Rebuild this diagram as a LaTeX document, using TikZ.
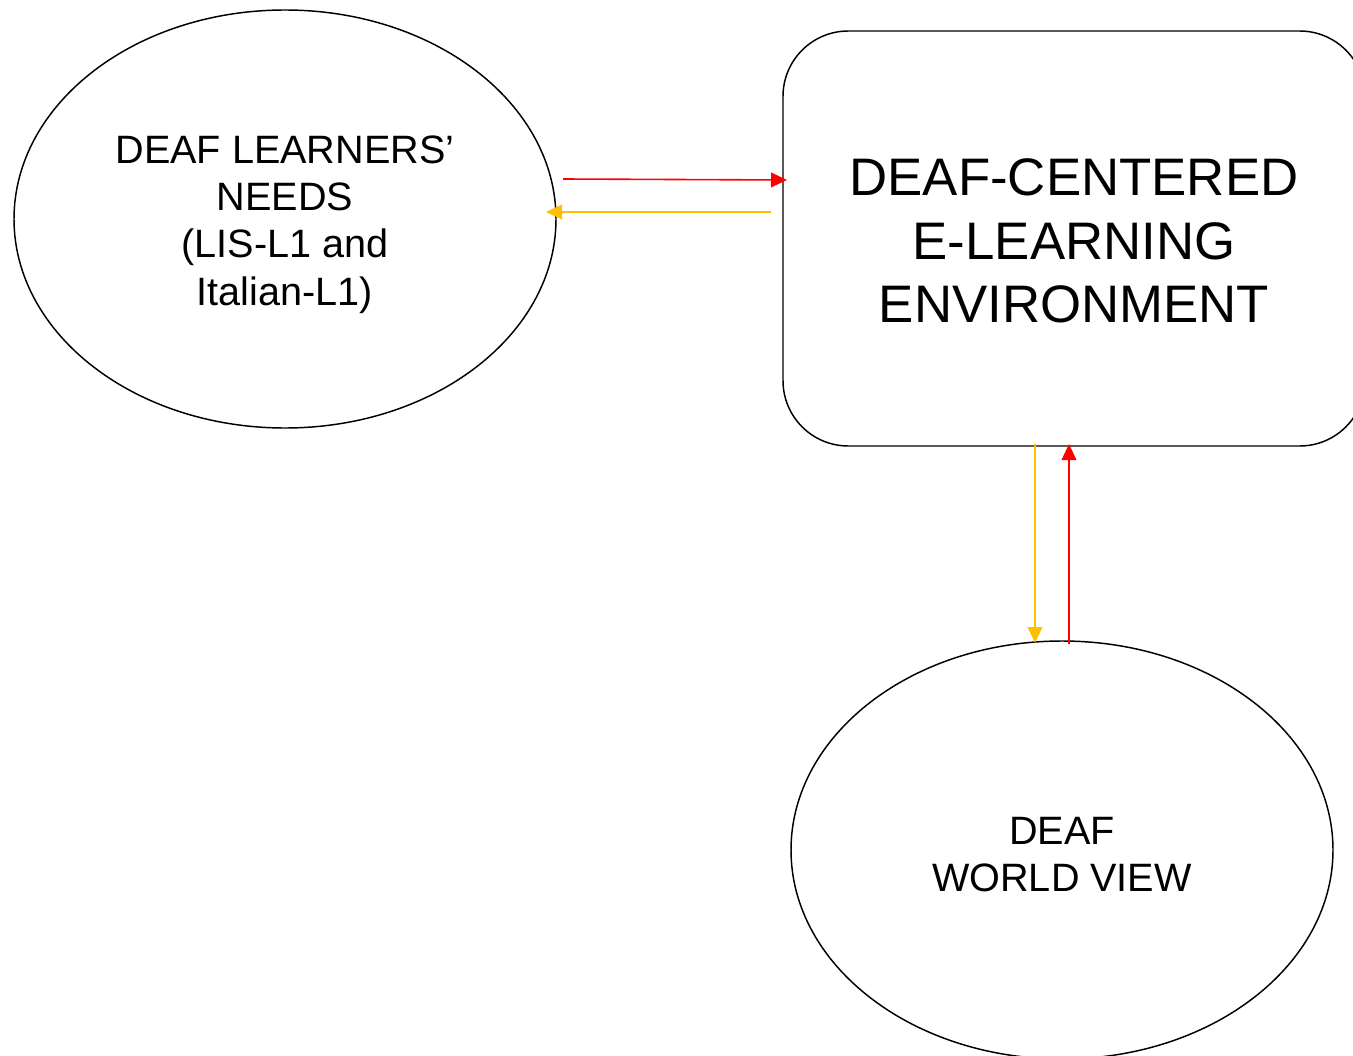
\documentclass[tikz,border=0pt]{standalone}
\usepackage{fontspec}
\setmainfont{Liberation Sans}
\usetikzlibrary{shapes.geometric,arrows.meta}
\definecolor{arrred}{HTML}{FF0000}
\definecolor{arryel}{HTML}{FFC000}
\tikzset{
  oval/.style={draw=black,line width=1.1pt,ellipse,inner sep=0pt,minimum width=406.5pt,minimum height=313.5pt,align=center,font=\fontsize{29.7pt}{35.6pt}\selectfont},
  bigbox/.style={draw=black,line width=1.1pt,rounded corners=49pt,inner sep=0pt,minimum width=436.5pt,minimum height=311.25pt,align=center,font=\fontsize{39.6pt}{47.6pt}\selectfont},
  redarr/.style={draw=arrred,line width=1.2pt,-{Triangle[length=12pt,width=11pt]}},
  yelarr/.style={draw=arryel,line width=1.2pt,-{Triangle[length=12pt,width=11pt]}},
}
\begin{document}
\begin{tikzpicture}[x=0.75pt,y=-0.75pt]
\useasboundingbox (0,0) rectangle (1353,1056);
\clip (0,0) rectangle (1353,1056);
\node[oval] (needs) at (285,219) {\rule{0pt}{29pt}DEAF LEARNERS’\\ NEEDS\\ (LIS-L1 and\\ Italian-L1)};
\node[bigbox] (env) at (1074,238.5) {\rule{0pt}{31.5pt}DEAF-CENTERED\\ E-LEARNING\\ ENVIRONMENT};
\node[oval] (world) at (1062,850) {\rule{0pt}{27.5pt}DEAF\\ WORLD VIEW};
\coordinate (r1s) at (563,179);
\coordinate (r1e) at (787,180);
\coordinate (y1s) at (771,212);
\coordinate (y1e) at (546,212);
\coordinate (y2s) at (1035,444);
\coordinate (y2e) at (1035,643);
\coordinate (r2s) at (1069,644);
\coordinate (r2e) at (1069,444);
\draw[redarr] (r1s) -- (r1e);
\draw[yelarr] (y1s) -- (y1e);
\draw[yelarr] (y2s) -- (y2e);
\draw[redarr] (r2s) -- (r2e);
\end{tikzpicture}
\end{document}
